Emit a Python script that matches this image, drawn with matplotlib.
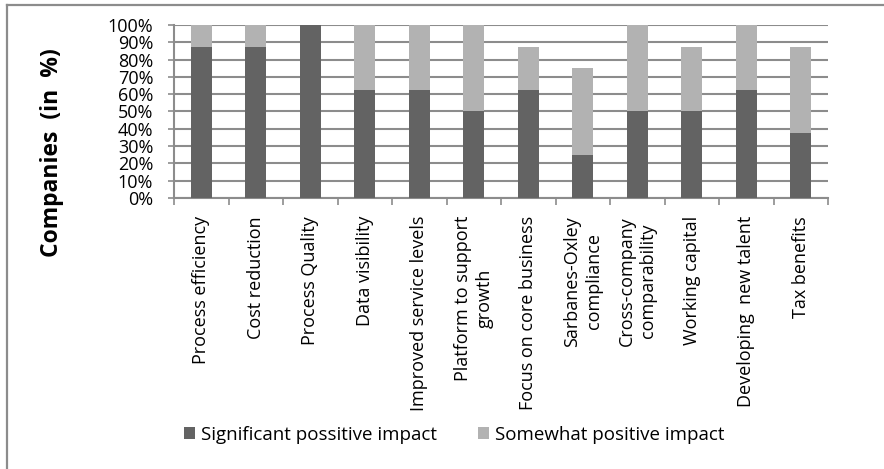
import matplotlib.pyplot as plt
import numpy as np
from matplotlib.lines import Line2D
from matplotlib.ticker import PercentFormatter

plt.rcParams['font.family'] = ['Open Sans', 'DejaVu Sans']

categories = ["Process efficiency", "Cost reduction", "Process Quality", "Data visibility",
              "Improved service levels", "Platform to support\ngrowth", "Focus on core business",
              "Sarbanes-Oxley\ncompliance", "Cross-company\ncomparability", "Working capital",
              "Developing  new talent", "Tax benefits"]
significant = [87.5, 87.5, 100, 62.5, 62.5, 50, 62.5, 25, 50, 50, 62.5, 37.5]
somewhat = [12.5, 12.5, 0, 37.5, 37.5, 50, 25, 50, 50, 37.5, 37.5, 50]

dark = "#636363"
light = "#b2b2b2"
gridc = "#8c8c8c"

W, H = 884, 469
fig = plt.figure(figsize=(W / 100, H / 100), dpi=100)
ax = fig.add_axes([174/W, 1-198/H, (828-174)/W, (198-25)/H])

# only the left and top edges of the chart frame are visible (cropped screenshot)
fig.add_artist(Line2D([7/W, 7/W], [0, 1-5/H], color=gridc, linewidth=1.6, transform=fig.transFigure))
fig.add_artist(Line2D([7/W, 1], [1-5/H, 1-5/H], color=gridc, linewidth=1.6, transform=fig.transFigure))

x = np.arange(len(categories))
ax.bar(x, significant, width=0.39, color=dark, label="Significant possitive impact", zorder=3)
ax.bar(x, somewhat, width=0.39, bottom=significant, color=light,
       label="Somewhat positive impact", zorder=3)

ax.set_xlim(-0.5, len(categories) - 0.5)
ax.set_ylim(0, 100)
ax.set_yticks(np.arange(0, 101, 10))
ax.yaxis.set_major_formatter(PercentFormatter(decimals=0))
ax.grid(axis="y", color=gridc, linewidth=1.5, zorder=0)

ax.set_xticks(np.arange(-0.5, len(categories), 1))
ax.set_xticklabels([])
ax.set_xticks(x, minor=True)
ax.set_xticklabels(categories, minor=True, rotation=90, ha="center", va="top",
                   fontsize=13, multialignment="center", linespacing=1.25)
ax.tick_params(axis="x", which="minor", length=0, pad=13)
ax.tick_params(axis="x", which="major", length=5, color=gridc, width=1.2)
ax.tick_params(axis="y", length=4, color=gridc, width=1.2, labelsize=13, pad=11)

for s in ["top", "right"]:
    ax.spines[s].set_visible(False)
for s in ["left", "bottom"]:
    ax.spines[s].set_color(gridc)
    ax.spines[s].set_linewidth(1.5)

fig.text(52/W, 1-153/H, "Companies  (in  %)", rotation=90, ha="center", va="center",
         fontsize=16.5, fontweight="bold")

fig.legend(loc="center", bbox_to_anchor=(454/W, 1-435/H), ncol=2, frameon=False,
           fontsize=13.5, handlelength=0.6, handleheight=0.6, handletextpad=0.3,
           columnspacing=2.2)

fig.savefig("out.png", dpi=100)
